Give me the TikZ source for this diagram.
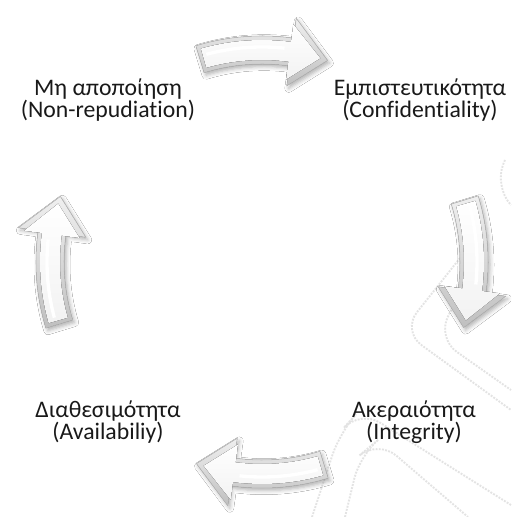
\documentclass[tikz,border=0pt]{standalone}
\usepackage{fontspec}
\setmainfont{Carlito}[Ligatures={NoCommon}]
\usetikzlibrary{shadows.blur}

% block arrow on a circle: radius, body half width, head half width, tail angle, head angle, tip angle
\newcommand{\arrowshape}[6]{({#4}:{#1+#2}) arc[start angle={#4}, end angle={#5}, radius={#1+#2}] -- ({#5}:{#1+#3}) -- ({#6}:{#1}) -- ({#5}:{#1-#3}) -- ({#5}:{#1-#2}) arc[start angle={#5}, end angle={#4}, radius={#1-#2}] -- cycle}

\tikzset{
  goal/.style={align=center, inner sep=0pt, text=black!90, font=\fontsize{17.8}{16.8}\selectfont},
  arrowrim/.style={top color=gray!12, bottom color=gray!50, draw=gray!55, line width=0.4pt,
    blur shadow={shadow xshift=1.5pt, shadow yshift=-2pt, shadow blur radius=3pt, shadow opacity=30}},
  arrowface/.style={top color=white, bottom color=gray!10},
  trace/.style={gray!22, densely dotted, line width=1.4pt, rounded corners=18pt}
}

\begin{document}
\begin{tikzpicture}[x=0.75pt, y=0.75pt]
\useasboundingbox (0,0) rectangle (511,517);
\fill[white] (0,0) rectangle (511,517);

% faint traces in the background
\begin{scope}[shift={(0,517)}, yscale=-1]
\draw[trace] (505,160) -- (494,186) -- (511,205);
\draw[trace] (468,248) -- (402,331) -- (511,410);
\draw[trace] (463,287) -- (437,338) -- (511,390);
\draw[trace] (312,517) -- (340,432) -- (360,410) -- (511,505);
\draw[trace] (345,517) -- (360,455) -- (378,440) -- (468,517);
\end{scope}

\coordinate (ctr) at (262,255);
\foreach \m in {90,0,270,180} {
  \begin{scope}[shift={(ctr)}]
    \fill[arrowrim] \arrowshape{212}{14}{34}{\m+17}{\m-8}{\m-18};
    \fill[arrowface] \arrowshape{212}{10}{28}{\m+16}{\m-7.5}{\m-16};
    \draw[white, line width=2.5pt] ({\m+15}:215) arc[start angle=\m+15, end angle=\m-6, radius=215];
  \end{scope}
}

\node[goal] (nonrep) at (108,417) {Μη αποποίηση\\(Non-repudiation)};
\node[goal] (conf) at (420,417) {Εμπιστευτικότητα\\(Confidentiality)};
\node[goal] (integ) at (414,95) {Ακεραιότητα\\(Integrity)};
\node[goal] (avail) at (108,95) {Διαθεσιμότητα\\(Availabiliy)};
\end{tikzpicture}
\end{document}
